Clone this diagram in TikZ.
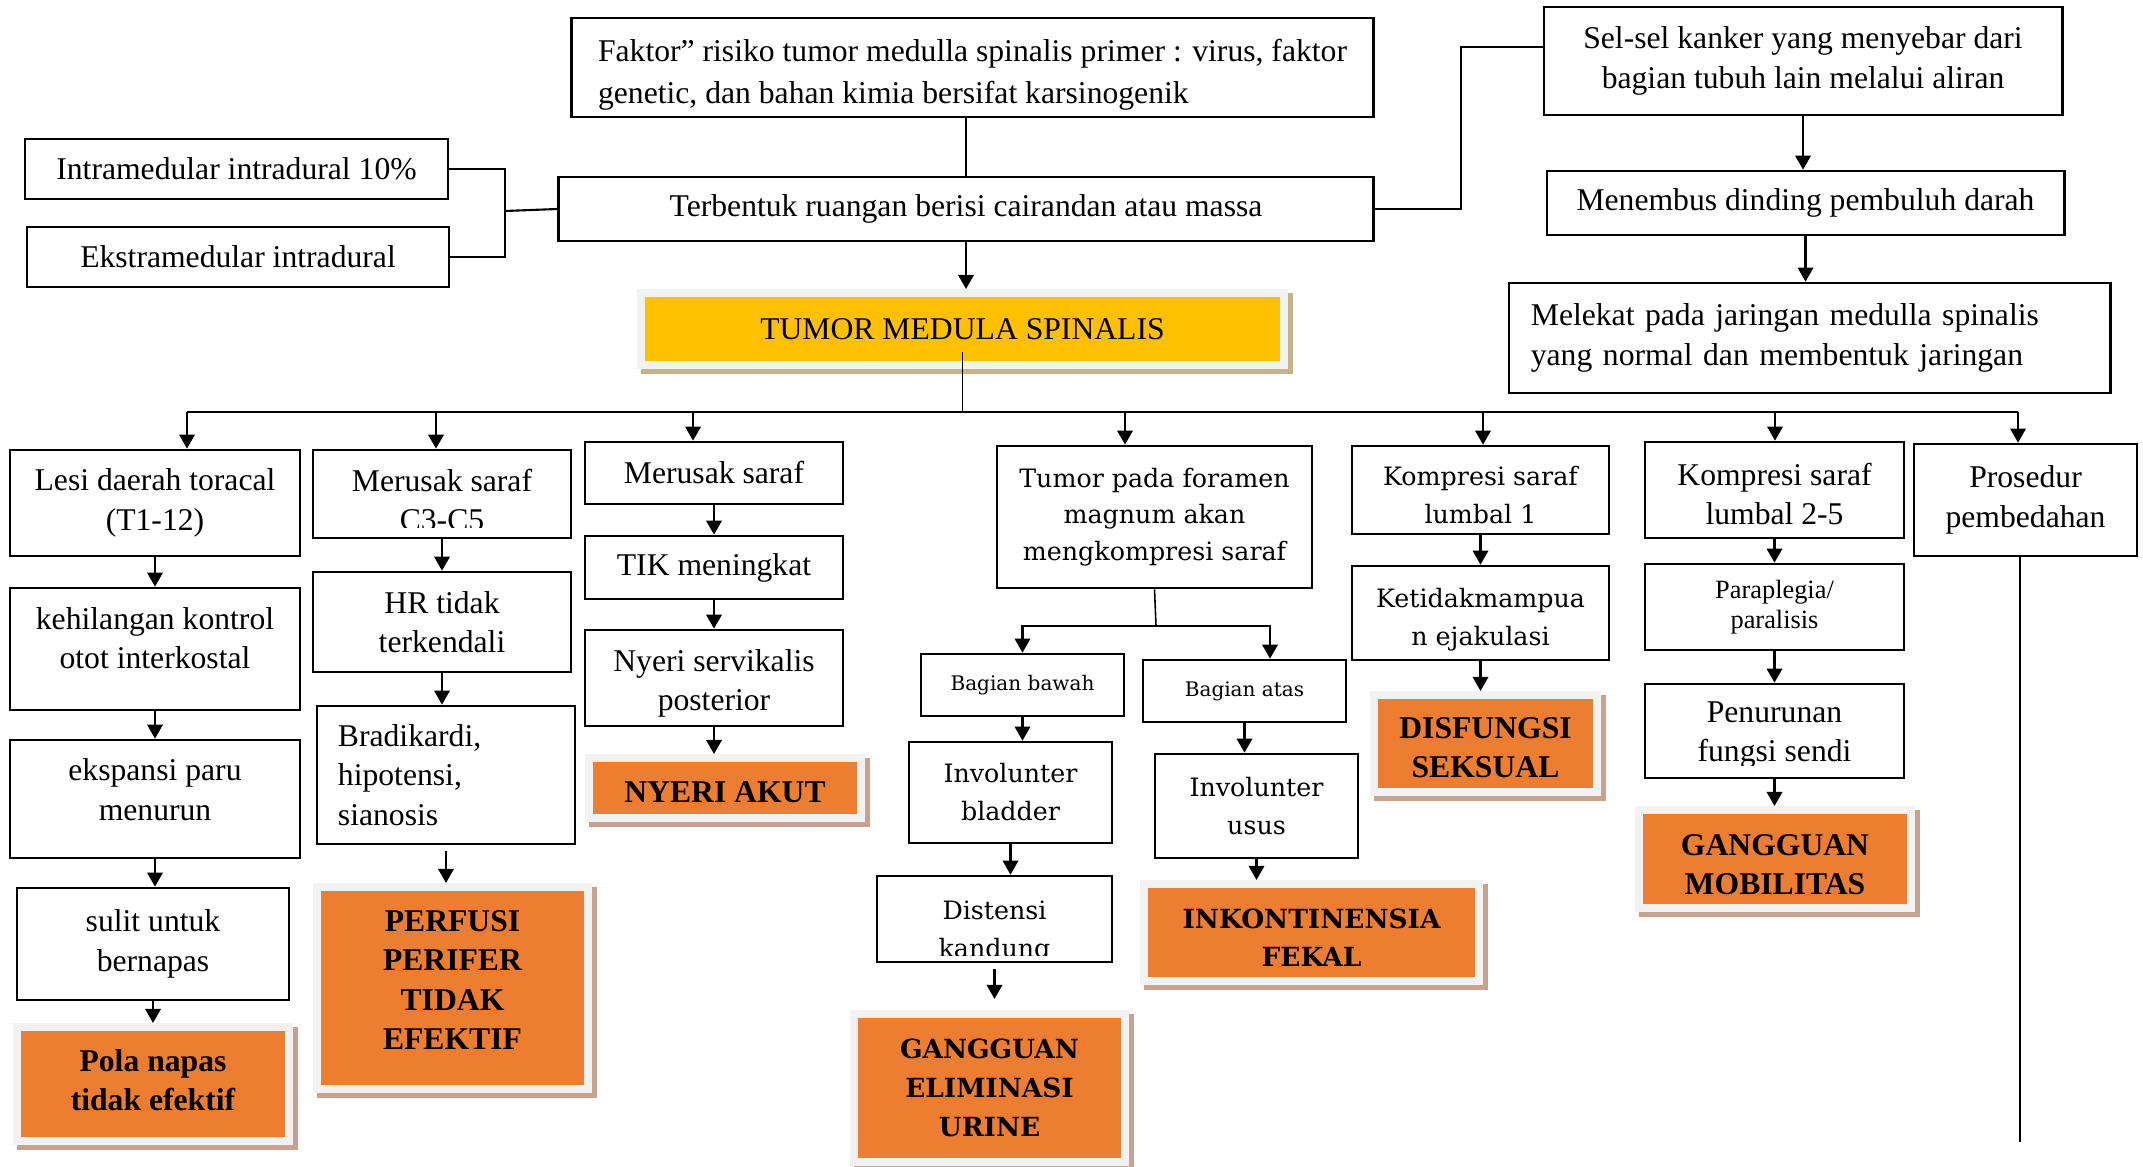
\documentclass[tikz,border=0pt]{standalone}
\usepackage{fontspec}
\setmainfont{Liberation Serif}
\newfontfamily\cent{DejaVu Serif}
\usetikzlibrary{arrows.meta,shadows}
\definecolor{orangeF}{HTML}{ED7D31}
\definecolor{yellowF}{HTML}{FFC000}
\definecolor{frameG}{HTML}{F2F2F2}
\definecolor{tanO}{HTML}{C9A28D}
\definecolor{tanY}{HTML}{C3B38B}
\tikzset{
  blk/.style={rectangle, draw, line width=0.75pt, align=center, inner sep=2pt,
              font=\fontsize{9}{11.2}\selectfont},
  cblk/.style={blk, font=\cent\fontsize{7.2}{10.8}\selectfont},
  txt/.style={align=center, inner sep=0pt, font=\fontsize{9}{11.2}\selectfont},
  dx/.style 2 args={rectangle, fill=#1, align=center, inner sep=2pt, outer sep=0.08cm,
              font=\bfseries\fontsize{9}{11.2}\selectfont,
              general shadow={fill=#2, draw=#2, line width=0.16cm,
                              shadow xshift=0.045cm, shadow yshift=-0.045cm},
              preaction={draw=frameG, line width=0.16cm}},
  ar/.style={-{Triangle[length=4pt,width=4.4pt]}, line width=0.6pt},
  ln/.style={line width=0.6pt},
  thn/.style={line width=0.45pt},
}
\begin{document}
\begin{tikzpicture}[x=0.01cm, y=-0.01cm]
  \path[use as bounding box, fill=white] (0,0) rectangle (2143,1167);

  % top: causes
  \node[blk, align=left, font=\fontsize{9}{11.9}\selectfont, minimum width=8.01cm, minimum height=0.95cm] (faktor) at (972.5,67.5)
    {\rule{0pt}{0.36cm}Faktor” risiko tumor medulla spinalis primer : virus, faktor\\genetic, dan bahan kimia bersifat karsinogenik};
  \node[blk, minimum width=8.14cm, minimum height=0.64cm] (rongga) at (966,209) {Terbentuk ruangan berisi cairandan atau massa};
  \node[blk, minimum width=4.23cm, minimum height=0.6cm] (intra) at (236.5,169) {Intramedular intradural 10\%};
  \node[blk, minimum width=4.22cm, minimum height=0.6cm] (ekstra) at (238,257) {Ekstramedular intradural};
  \node[dx={yellowF}{tanY}, font=\fontsize{9}{11.2}\selectfont, minimum width=6.35cm, minimum height=0.64cm] (tumor) at (962.5,329) {TUMOR MEDULA SPINALIS};

  \node[blk, minimum width=5.18cm, minimum height=1.08cm] (sebar) at (1803,61) {Sel-sel kanker yang menyebar dari\\bagian tubuh lain melalui aliran};
  \node[blk, minimum width=5.17cm, minimum height=0.64cm] (tembus) at (1805.5,203) {Menembus dinding pembuluh darah};
  \node[blk, align=left, inner xsep=0.22cm, text width=5.57cm, minimum height=1.1cm] (lekat) at (1809.5,338)
    {Melekat pada jaringan medulla spinalis\\yang normal dan membentuk jaringan};

  % column 1
  \node[blk, minimum width=2.9cm, minimum height=1.06cm] (lesi) at (155,503) {Lesi daerah toracal\\(T1-12)};
  \node[blk, minimum width=2.9cm, minimum height=1.22cm] (kehil) at (155,649) {kehilangan kontrol\\otot interkostal\rule[-0.22cm]{0pt}{0pt}};
  \node[blk, minimum width=2.9cm, minimum height=1.18cm] (paru) at (155,799) {ekspansi paru\\menurun\rule[-0.19cm]{0pt}{0pt}};
  \node[blk, minimum width=2.72cm, minimum height=1.12cm] (sulit) at (153,944) {sulit untuk\\bernapas};
  \node[dx={orangeF}{tanO}, minimum width=2.64cm, minimum height=1.06cm] (pola) at (153,1084) {Pola napas\\tidak efektif\rule[-0.08cm]{0pt}{0pt}};

  % column 2
  \node[blk, minimum width=2.58cm, minimum height=0.88cm] (c3c5) at (442,494) {};
  \begin{scope}
    \clip (c3c5.north west) rectangle (c3c5.east |- 0,527);
    \node[txt] (c3c5t) at (442,500) {Merusak saraf\\C3-C5};
  \end{scope}
  \node[blk, minimum width=2.58cm, minimum height=1cm] (hr) at (442,622) {HR tidak\\terkendali};
  \node[blk, align=left, inner xsep=0.21cm, text width=2.16cm, minimum height=1.38cm] (brad) at (446,775) {Bradikardi,\\hipotensi,\\sianosis};
  \node[dx={orangeF}{tanO}, minimum width=2.63cm, minimum height=1.94cm] (perfusi) at (452.5,988) {PERFUSI\\PERIFER\\TIDAK\\EFEKTIF\rule[-0.16cm]{0pt}{0pt}};

  % column 3
  \node[blk, minimum width=2.58cm, minimum height=0.62cm] (saraf) at (714,473) {Merusak saraf};
  \node[blk, minimum width=2.58cm, minimum height=0.63cm] (tik) at (714,567.5) {TIK meningkat};
  \node[blk, minimum width=2.58cm, minimum height=0.96cm] (servik) at (714,678) {\rule{0pt}{0.33cm}Nyeri servikalis\\posterior};
  \node[dx={orangeF}{tanO}, minimum width=2.64cm, minimum height=0.52cm] (akut) at (725,788) {\rule{0pt}{0.295cm}NYERI AKUT};

  % column 4
  \node[cblk, font=\cent\fontsize{7.2}{10.3}\selectfont, minimum width=3.15cm, minimum height=1.42cm] (foramen) at (1154.5,517) {Tumor pada foramen\\magnum akan\\mengkompresi saraf};
  \node[cblk, font=\cent\fontsize{5.7}{7}\selectfont, minimum width=2.03cm, minimum height=0.62cm] (bawah) at (1022.5,685) {Bagian bawah};
  \node[cblk, font=\cent\fontsize{5.7}{7}\selectfont, minimum width=2.03cm, minimum height=0.62cm] (atas) at (1244.5,691) {Bagian atas};
  \node[cblk, minimum width=2.03cm, minimum height=1.01cm] (bladder) at (1010.5,792.5) {Involunter\\bladder};
  \node[cblk, minimum width=2.35cm, minimum height=0.86cm] (distensi) at (994.5,919) {};
  \begin{scope}
    \clip (distensi.north west) rectangle (distensi.east |- 0,955);
    \node[txt, font=\cent\fontsize{7.2}{10.8}\selectfont] (distensit) at (994.5,932) {Distensi\\kandung};
  \end{scope}
  \node[dx={orangeF}{tanO}, font=\cent\bfseries\fontsize{7.5}{11}\selectfont, minimum width=2.63cm, minimum height=1.4cm] (urine) at (989.5,1088) {GANGGUAN\\ELIMINASI\\URINE};
  \node[cblk, minimum width=2.03cm, minimum height=1.04cm] (usus) at (1256.5,806) {Involunter\\usus};
  \node[dx={orangeF}{tanO}, font=\cent\bfseries\fontsize{7.5}{11}\selectfont, minimum width=3.27cm, minimum height=0.89cm] (fekal) at (1311.5,932.5) {\rule{0pt}{0.3cm}INKONTINENSIA\\FEKAL};

  % column 5
  \node[cblk, minimum width=2.57cm, minimum height=0.88cm] (lumbal1) at (1480.5,490) {\rule{0pt}{0.3cm}Kompresi saraf\\lumbal 1};
  \node[cblk, minimum width=2.57cm, minimum height=0.94cm] (ejak) at (1480.5,613) {\rule{0pt}{0.333cm}Ketidakmampua\\n ejakulasi};
  \node[dx={orangeF}{tanO}, minimum width=2.15cm, minimum height=0.89cm] (seksual) at (1485.5,743.5) {\rule{0pt}{0.29cm}DISFUNGSI\\SEKSUAL};

  % column 6
  \node[blk, minimum width=2.59cm, minimum height=0.96cm] (lumbal2) at (1774.5,490) {\rule{0pt}{0.3cm}Kompresi saraf\\lumbal 2-5};
  \node[blk, font=\fontsize{7.5}{8.6}\selectfont, minimum width=2.59cm, minimum height=0.86cm] (para) at (1774.5,607) {Paraplegia/\\paralisis};
  \node[blk, minimum width=2.59cm, minimum height=0.94cm] (sendi) at (1774.5,731) {};
  \begin{scope}
    \clip (sendi.north west) rectangle (sendi.east |- 0,765);
    \node[txt] (sendit) at (1774.5,735) {Penurunan\\fungsi sendi};
  \end{scope}
  \node[dx={orangeF}{tanO}, minimum width=2.64cm, minimum height=0.9cm] (mobil) at (1775,859) {\rule{0pt}{0.32cm}GANGGUAN\\MOBILITAS};

  % column 7
  \node[blk, minimum width=2.23cm, minimum height=1.12cm] (bedah) at (2025.5,500) {Prosedur\\pembedahan};

  % connectors
  \draw[thn] (rongga.north |- faktor.south) -- (rongga.north);
  \draw[ar] (rongga.south) -- (rongga.south |- tumor.north);
  \coordinate (kurung) at (505,211);
  \draw[ln] (intra.east) -| (kurung) |- (ekstra.east);
  \draw[ln] (kurung) -- (rongga.west);
  \draw[ln] (rongga.east) -- ++(86,0) |- ([yshift=0.14cm]sebar.west);
  \draw[ar] (sebar.south) -- (sebar.south |- tembus.north);
  \draw[ar] (tembus.south) -- (tembus.south |- lekat.north);

  \coordinate (bus) at (960,412);
  \draw[thn] ([yshift=0.17cm]tumor.south) -- (tumor.south |- bus);
  \draw[ln] (187,412) -- (2018,412);
  \foreach \n/\x in {lesi/187, c3c5/436, saraf/693, foramen/1125, lumbal1/1483, lumbal2/1775, bedah/2018}
    \draw[ar] (\x,412) -- (\x,0 |- \n.north);

  \foreach \a/\b in {lesi/kehil, kehil/paru, paru/sulit, sulit/pola, c3c5/hr, hr/brad,
                     saraf/tik, tik/servik, servik/akut, bawah/bladder, bladder/distensi,
                     atas/usus, usus/fekal, lumbal1/ejak, ejak/seksual,
                     lumbal2/para, para/sendi, sendi/mobil}
    \draw[ar] (\a.south) -- (\a.south |- \b.north);
  \draw[ar] ([yshift=-0.06cm]brad.south) -- (brad.south |- perfusi.north);
  \draw[ar, shorten >=0.11cm] ([yshift=-0.06cm]distensi.south) -- (distensi.south |- urine.north);

  \coordinate (cabang) at (1156,626);
  \draw[thn] (foramen.south) -- (cabang);
  \draw[ar] (cabang) -| (bawah.north);
  \draw[ar] (cabang) -| ([xshift=0.255cm]atas.north);

  \coordinate (ujung) at (2020,1142);
  \draw[ln] (bedah.south -| ujung) -- (ujung);
\end{tikzpicture}
\end{document}
